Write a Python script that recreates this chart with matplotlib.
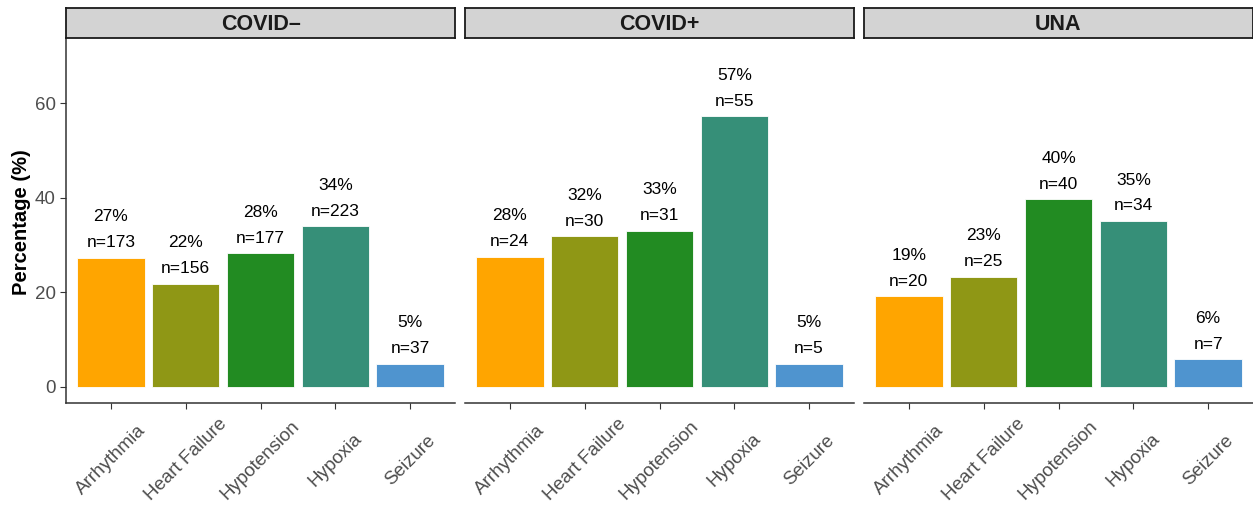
import numpy as np
import matplotlib.pyplot as plt

plt.rcParams.update({
    "font.family": ["Liberation Sans", "DejaVu Sans"],
    "font.size": 12,
})

# data
groups = ["COVID\u2013", "COVID+", "UNA"]
events = ["Arrhythmia", "Heart Failure", "Hypotension", "Hypoxia", "Seizure"]
pct_covid_neg = [27.3, 21.8, 28.3, 34.0, 4.9]
pct_covid_pos = [27.5, 31.9, 33.0, 57.3, 4.9]
pct_una = [19.2, 23.3, 39.7, 35.1, 5.9]
n_covid_neg = [173, 156, 177, 223, 37]
n_covid_pos = [24, 30, 31, 55, 5]
n_una = [20, 25, 40, 34, 7]
pct_label_neg = [27, 22, 28, 34, 5]
pct_label_pos = [28, 32, 33, 57, 5]
pct_label_una = [19, 23, 40, 35, 6]

colors = ["#FFA500", "#8F9715", "#228B22", "#368F78", "#4F94CF"]

pcts = [pct_covid_neg, pct_covid_pos, pct_una]
ns = [n_covid_neg, n_covid_pos, n_una]
plabels = [pct_label_neg, pct_label_pos, pct_label_una]

W, H = 1253, 508
fig = plt.figure(figsize=(W / 100, H / 100), dpi=100)

lefts = [66, 465, 864]
pw = 389
top, bottom = 38, 403
axis_col = "#333333"

x = np.arange(len(events))
for i, g in enumerate(groups):
    ax = fig.add_axes([lefts[i] / W, 1 - bottom / H, pw / W, (bottom - top) / H])
    ax.bar(x, pcts[i], width=0.9, color=colors, edgecolor="white", linewidth=0.6)
    for xi, v, n, p in zip(x, pcts[i], ns[i], plabels[i]):
        ax.annotate(f"n={n}", (xi, v), xytext=(0, 10.8), textcoords="offset points",
                    ha="center", va="center", fontsize=12.5, color="black")
        ax.annotate(f"{p}%", (xi, v), xytext=(0, 29.5), textcoords="offset points",
                    ha="center", va="center", fontsize=12.5, color="black")
    ax.set_xlim(-0.6, 4.6)
    ax.set_ylim(-3.4, 73.8)
    ax.set_yticks([0, 20, 40, 60])
    ax.set_xticks(x)
    ax.set_xticklabels(events, rotation=45, ha="center", va="center",
                       fontsize=13.5, color="#4D4D4D")
    ax.tick_params(axis="x", length=4, pad=37, color=axis_col)
    ax.tick_params(axis="y", length=4, color=axis_col, labelsize=13.5, labelcolor="#4D4D4D")
    for s in ["top", "right"]:
        ax.spines[s].set_visible(False)
    ax.spines["bottom"].set_color(axis_col)
    ax.spines["bottom"].set_linewidth(1.1)
    if i == 0:
        ax.spines["left"].set_color(axis_col)
        ax.spines["left"].set_linewidth(1.1)
    else:
        ax.spines["left"].set_visible(False)
        ax.tick_params(axis="y", left=False, labelleft=False)

    # strip
    sax = fig.add_axes([lefts[i] / W, 1 - top / H, pw / W, 30 / H])
    sax.set_facecolor("#D3D3D3")
    sax.set_xticks([])
    sax.set_yticks([])
    for s in sax.spines.values():
        s.set_color("#1A1A1A")
        s.set_linewidth(1.3)
    sax.text(0.5, 0.45, g, ha="center", va="center", fontsize=15.5,
             fontweight="bold", color="#1A1A1A", transform=sax.transAxes)

fig.text(22 / W, 1 - 222 / H, "Percentage (%)", rotation=90, ha="center", va="center",
         fontsize=14.5, fontweight="bold", color="black")

fig.savefig("out.png", dpi=100)
